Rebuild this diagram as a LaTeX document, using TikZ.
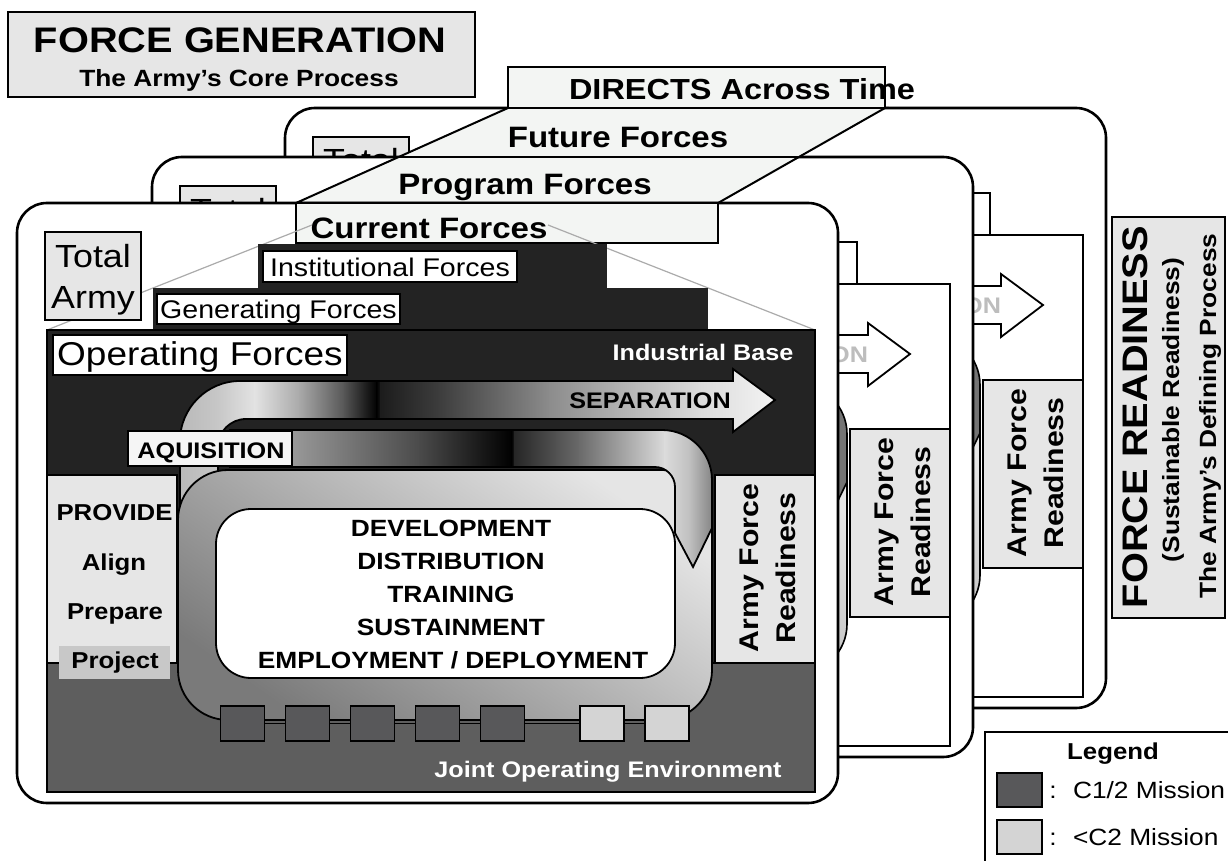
\documentclass[tikz,border=0pt]{standalone}
\usepackage{fontspec}
\setmainfont{Liberation Sans}[FakeStretch=1.12]
\definecolor{opdark}{HTML}{232323}
\definecolor{joe}{HTML}{5E5E5E}
\definecolor{panel}{HTML}{E6E6E6}
\definecolor{paper}{HTML}{F3F5F3}
\definecolor{sqdark}{HTML}{58585A}
\definecolor{sqlight}{HTML}{D4D4D4}
\definecolor{projbox}{HTML}{C8C8C8}
\definecolor{ghosttext}{HTML}{BDBDBD}
\definecolor{guide}{HTML}{ABABAB}
\newcommand{\fsz}[1]{\fontsize{#1}{#1}\selectfont}
\newcommand{\seg}[4]{\shade[left color=#3,right color=#4] ({#1-0.6},300) rectangle ({#2+0.6},800);}
\newcommand{\sepshape}[1]{#1 (180,560) -- (180,441) .. controls (180,408) and (207,381) .. (240,381) -- (733,381) -- (733,369) -- (775,400) -- (733,432) -- (733,419) -- (246,419) .. controls (230.5,419) and (218,431.5) .. (218,447) -- (218,560) -- cycle;}
\newcommand{\aqshape}[1]{#1 (230,430) -- (662,430) .. controls (689.6,430) and (712,452.4) .. (712,480) -- (712,528) -- (693,567) -- (675,533) -- (675,487) .. controls (675,476) and (666,467) .. (655,467) -- (230,467) -- cycle;}
\tikzset{
  card/.style={draw=black, line width=2.6pt, fill=white, rounded corners=30pt},
  box/.style={draw=black, line width=2pt},
  txt/.style={inner sep=0pt, outer sep=0pt, anchor=base},
  guideline/.style={draw=guide, line width=1.2pt},
  sqd/.style={draw=black, line width=1.6pt, fill=sqdark, minimum width=44pt, minimum height=35pt, inner sep=0pt},
  sql/.style={sqd, fill=sqlight},
}
\newcommand{\ghostcard}[1]{%
  \draw[card] (17,203) rectangle (838,803);
  \draw[box, fill=panel] (45,232) rectangle (141,320);
  \node[txt, font=\fsz{32}] (#1-total) at (93,267) {Total};
  \draw[box, fill=white] (153,288) rectangle (722,330);
  \draw[box, fill=white] (47,330) rectangle (815,792);
  \sepshape{\draw[line width=1.8pt, fill=white]}
  \node[txt, anchor=base east, font=\bfseries\fsz{22.5}, text=ghosttext] (#1-sep) at (733,408) {ON};
  \shade[rounded corners=50pt, top color=black!10, bottom color=black!45, shading angle=-35] (178,470) rectangle (712,720);
  \draw[rounded corners=50pt, line width=1.6pt] (178,470) rectangle (712,720);
  \aqshape{\shade[left color=black!15, right color=black!55]}
  \aqshape{\draw[line width=1.6pt]}
  \draw[box, fill=panel] (715,475) rectangle (815,663);
  \node[txt, rotate=90, font=\bfseries\fsz{27}] (#1-afr1) at (758,568) {Army Force};
  \node[txt, rotate=90, font=\bfseries\fsz{27}] (#1-afr2) at (795,568) {Readiness};
}
\begin{document}
\begin{tikzpicture}[x=1pt,y=-1pt]
\useasboundingbox (0,0) rectangle (1228,861);
\clip (0,0) rectangle (1228,861);

% title
\draw[box, fill=panel] (8,12) rectangle (475,97);
\node[txt, font=\bfseries\fsz{35.5}] (title) at (240,53) {FORCE GENERATION};
\node[txt, font=\bfseries\fsz{23.5}] (subtitle) at (239,87) {The Army's Core Process};

% back card (future)
\begin{scope}[shift={(268,-95)}]
\ghostcard{back}
\end{scope}

% force readiness box
\draw[box, fill=panel] (1112,217) rectangle (1225,618);
\node[txt, rotate=90, font=\bfseries\fsz{35.5}] (fr1) at (1147,417) {FORCE READINESS};
\node[txt, rotate=90, font=\bfseries\fsz{23.5}] (fr2) at (1179,410) {(Sustainable Readiness)};
\node[txt, rotate=90, font=\bfseries\fsz{23.5}] (fr3) at (1216,416) {The Army's Defining Process};

% middle card (program)
\begin{scope}[shift={(135,-46)}]
\ghostcard{mid}
\end{scope}

% directs parallelogram
\draw[line width=2pt, fill=paper] (508,108) -- (885,108) -- (718,203) -- (296,203) -- cycle;
\draw[line width=2.6pt] (398.7,157) -- (798.9,157);
\draw[box, fill=paper] (508,67) rectangle (885,108);
\node[txt, font=\bfseries\fsz{29}] (directs) at (742,100) {DIRECTS Across Time};
\node[txt, font=\bfseries\fsz{29.5}] (future) at (618,148) {Future Forces};
\node[txt, font=\bfseries\fsz{29.5}] (program) at (525,195) {Program Forces};

% front card (current)
\draw[card] (17,203) rectangle (838,803);
\draw[box, fill=paper] (296,203) rectangle (718,243);
\node[txt, font=\bfseries\fsz{29.5}] (current) at (429,238) {Current Forces};
\draw[guideline] (312,225) -- (47,330);
\draw[guideline] (548,225) -- (815,330);
\fill[opdark] (258,244) rectangle (607,290);
\fill[opdark] (153,288) rectangle (708,332);
\draw[box, fill=opdark] (47,330) rectangle (815,663);
\draw[box, fill=joe] (47,663) rectangle (815,792);

\draw[box, fill=panel] (45,232) rectangle (141,320);
\node[txt, font=\fsz{32}] (total) at (93,267) {Total};
\node[txt, font=\fsz{32}] (army) at (93,308) {Army};

\draw[box, fill=white] (263,251) rectangle (517,282);
\node[txt, font=\fsz{25.5}] (inst) at (390,276) {Institutional Forces};
\draw[box, fill=white] (157,294) rectangle (400,324);
\node[txt, font=\fsz{25.5}] (gen) at (278.5,318) {Generating Forces};
\draw[box, fill=white] (53,335) rectangle (347,375);
\node[txt, font=\fsz{33}] (oper) at (200,365) {Operating Forces};
\node[txt, font=\bfseries\fsz{22.5}, text=white] (indbase) at (703,360) {Industrial Base};

\draw[box, fill=panel] (47,475) rectangle (177,663);
\draw[box, fill=panel] (715,475) rectangle (815,663);
\fill[projbox] (59,646) rectangle (170,679);

% separation band
\begin{scope}
\sepshape{\clip}
\seg{170}{218}{black!29}{black!22}
\seg{218}{255}{black!22}{black!11}
\seg{255}{300}{black!11}{black!34}
\seg{300}{345}{black!34}{black!67}
\seg{345}{377}{black!67}{black}
\seg{377}{381}{black}{black!89}
\seg{381}{440}{black!89}{black!76}
\seg{440}{550}{black!76}{black!45}
\seg{550}{700}{black!45}{black!14}
\seg{700}{780}{black!14}{black!4}
\end{scope}
\sepshape{\draw[line width=1.8pt]}
\node[txt, font=\bfseries\fsz{22.5}] (sep) at (650,408) {SEPARATION};

% big loop
\shade[rounded corners=50pt, top color=black!10, bottom color=black!52, shading angle=-35] (178,470) rectangle (712,720);
\draw[rounded corners=50pt, line width=1.8pt] (178,470) rectangle (712,720);
\draw[rounded corners=35pt, line width=1.8pt, fill=white] (216,509) rectangle (675,678);

% acquisition band
\begin{scope}
\aqshape{\clip}
\seg{225}{292}{black!40}{black!40}
\seg{292}{420}{black!40}{black!71}
\seg{420}{512}{black!71}{black}
\seg{512}{515}{black}{black!85}
\seg{515}{580}{black!85}{black!58}
\seg{580}{665}{black!58}{black!14}
\seg{665}{690}{black!14}{black!25}
\seg{690}{714}{black!25}{black!50}
\end{scope}
\aqshape{\draw[line width=1.8pt]}
\draw[line width=1.5pt, fill=black!4] (128,431) rectangle (292,466);
\node[txt, font=\bfseries\fsz{22.5}] (aq) at (211,458) {AQUISITION};

% list
\node[txt, font=\bfseries\fsz{23.5}] (l1) at (451,536.5) {DEVELOPMENT};
\node[txt, font=\bfseries\fsz{23.5}] (l2) at (451,569.5) {DISTRIBUTION};
\node[txt, font=\bfseries\fsz{23.5}] (l3) at (451,602.5) {TRAINING};
\node[txt, font=\bfseries\fsz{23.5}] (l4) at (451,635.5) {SUSTAINMENT};
\node[txt, font=\bfseries\fsz{23.5}] (l5) at (453,668.5) {EMPLOYMENT / DEPLOYMENT};

% provide panel
\node[txt, font=\bfseries\fsz{23}] (p1) at (114.5,520) {PROVIDE};
\node[txt, font=\bfseries\fsz{23}] (p2) at (114,570) {Align};
\node[txt, font=\bfseries\fsz{23}] (p3) at (115,619) {Prepare};
\node[txt, font=\bfseries\fsz{23}] (p4) at (115,668) {Project};

% readiness panel
\node[txt, rotate=90, font=\bfseries\fsz{27}] (afr1) at (758,568) {Army Force};
\node[txt, rotate=90, font=\bfseries\fsz{27}] (afr2) at (795,568) {Readiness};

% squares
\node[sqd] (s1) at (242.5,723.5) {};
\node[sqd] (s2) at (307.5,723.5) {};
\node[sqd] (s3) at (372.5,723.5) {};
\node[sqd] (s4) at (437.5,723.5) {};
\node[sqd] (s5) at (502.5,723.5) {};
\node[sql] (s6) at (602,723.5) {};
\node[sql] (s7) at (667,723.5) {};
\draw[line width=1.4pt] (s1) -- (s2) (s2) -- (s3) (s3) -- (s4) (s4) -- (s5) (s5) -- (s6) (s6) -- (s7);

\node[txt, font=\bfseries\fsz{22.5}, text=white] (joetext) at (608,777) {Joint Operating Environment};

% legend
\draw[box, fill=white] (985,732) rectangle (1240,875);
\node[txt, font=\bfseries\fsz{23}] (legend) at (1113,759) {Legend};
\node[draw=black, line width=1.6pt, fill=sqdark, minimum width=45pt, minimum height=34pt, inner sep=0pt] (lg1) at (1019.5,790) {};
\node[draw=black, line width=1.6pt, fill=sqlight, minimum width=45pt, minimum height=34pt, inner sep=0pt] (lg2) at (1019.5,837) {};
\node[txt, font=\fsz{23.5}] (c1) at (1053,798) {:};
\node[txt, font=\fsz{23.5}] (c2) at (1053,845) {:};
\node[txt, anchor=base west, font=\fsz{23.5}] (m1) at (1073,798) {C1/2 Mission};
\node[txt, anchor=base west, font=\fsz{23.5}] (m2) at (1073,845) {<C2 Mission};
\end{tikzpicture}
\end{document}
